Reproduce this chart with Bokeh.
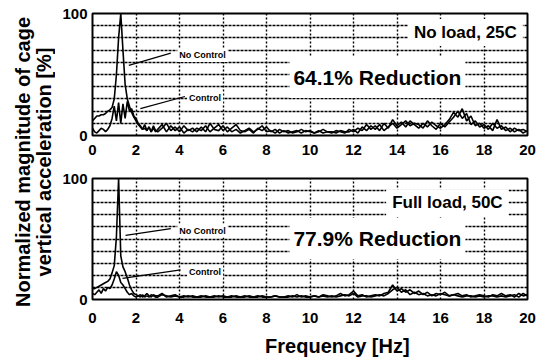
import numpy as np
from bokeh.plotting import figure
from bokeh.models import Range1d, FixedTicker, Label, Arrow, ColumnDataSource
from bokeh.layouts import row, column
from bokeh.embed import file_html
from bokeh.resources import INLINE

# ---------------- data ----------------
freq_lo = [round(0.1 * i, 1) for i in range(30)]        # 0.0 .. 2.9 Hz
freq_hi = [round(3.0 + 0.2 * i, 1) for i in range(86)]  # 3.0 .. 20.0 Hz

x_ticks = [0, 2, 4, 6, 8, 10, 12, 14, 16, 18, 20]
y_ticks = [0, 100]

# Panel 1: No load, 25C
nc1_lo = [12, 14, 16, 16, 17, 17, 18, 20, 21, 23,
          30, 50, 80, 100, 70, 42, 30, 24, 19, 15,
          12, 9, 7, 5, 6, 4, 7, 3, 6, 3]
c1_lo = [6, 3, 2, 4, 6, 5, 3, 5, 8, 14,
         24, 12, 27, 10, 26, 14, 28, 20, 22, 16,
         14, 10, 8, 5, 9, 4, 7, 3, 8, 4]
nc1_hi = [5, 9, 3, 8, 4, 7, 2, 5, 3, 6,
          4, 8, 3, 6, 9, 4, 7, 3, 5, 2,
          4, 6, 3, 5, 8, 3, 4, 2, 5, 3,
          4, 2, 3, 5, 3, 4, 2, 3, 5, 3,
          2, 4, 3, 2, 5, 3, 6, 4, 9, 5,
          8, 4, 10, 6, 13, 8, 11, 7, 12, 9,
          6, 10, 7, 11, 8, 6, 9, 13, 19, 15,
          22, 12, 16, 8, 10, 6, 8, 4, 13, 5,
          7, 3, 6, 4, 5, 3]
c1_hi = [3, 6, 10, 4, 7, 3, 8, 4, 6, 3,
         7, 3, 10, 5, 4, 8, 3, 6, 9, 4,
         3, 5, 2, 6, 4, 7, 3, 5, 2, 4,
         2, 3, 4, 2, 4, 3, 2, 4, 2, 3,
         3, 2, 4, 3, 3, 5, 2, 7, 4, 8,
         5, 9, 4, 7, 10, 6, 9, 12, 8, 10,
         9, 6, 12, 8, 5, 10, 7, 11, 15, 20,
         14, 18, 9, 12, 7, 9, 5, 10, 6, 8,
         4, 6, 3, 5, 2, 4]

# Panel 2: Full load, 50C
nc2_lo = [9, 9, 10, 11, 12, 13, 14, 15, 17, 22,
          28, 52, 100, 36, 27, 23, 18, 12, 8, 5,
          4, 3, 4, 2, 3, 5, 3, 2, 4, 3]
c2_lo = [5, 4, 6, 8, 5, 9, 7, 10, 9, 12,
         17, 23, 20, 14, 12, 9, 6, 4, 5, 3,
         2, 3, 2, 4, 2, 3, 2, 4, 3, 2]
nc2_hi = [3, 5, 2, 3, 4, 2, 3, 2, 3, 2,
          3, 2, 2, 3, 2, 3, 2, 2, 3, 2,
          2, 3, 2, 2, 3, 2, 2, 3, 2, 2,
          3, 2, 4, 2, 3, 2, 3, 2, 4, 3,
          2, 3, 5, 3, 4, 7, 3, 4, 2, 3,
          4, 3, 5, 6, 12, 7, 9, 6, 8, 5,
          7, 4, 6, 3, 5, 4, 6, 3, 4, 5,
          3, 4, 2, 3, 4, 3, 2, 4, 3, 5,
          3, 4, 2, 5, 3, 4]
c2_hi = [2, 4, 3, 2, 3, 2, 2, 3, 2, 2,
         2, 3, 2, 2, 3, 2, 2, 3, 2, 2,
         3, 2, 2, 3, 2, 2, 2, 3, 2, 2,
         2, 3, 2, 3, 2, 2, 3, 2, 3, 2,
         3, 2, 3, 4, 3, 5, 2, 3, 3, 2,
         3, 4, 3, 5, 8, 10, 6, 8, 4, 6,
         4, 5, 3, 4, 3, 5, 4, 3, 4, 3,
         2, 3, 3, 2, 3, 2, 3, 3, 2, 3,
         2, 3, 4, 2, 5, 3]

cond_texts = ["No load, 25C", "Full load, 50C"]
reduction_texts = ["64.1% Reduction", "77.9% Reduction"]
series_names = ["No Control", "Control"]
x_title = "Frequency [Hz]"
y_title = ["Normalized magnitude of cage", "vertical acceleration [%]"]

# ---------------- style / layout ----------------
FONT = "Liberation Sans"
INK = "black"
freq = freq_lo + freq_hi
LEFT_W = 55
PANEL_W = 485

panel_layout = [
    dict(height=166, border_top=13, border_bottom=31, standoff=9,
         cond=(14.5, 84.5), red=(13.1, 47.5), nc_lab=(3.9, 66), c_lab=(4.35, 31),
         nc_lead=((3.6, 67.5), (1.67, 57.5)), c_lead=((4.25, 32), (2.2, 22))),
    dict(height=167, border_top=12, border_bottom=34, standoff=13,
         cond=(13.5, 80), red=(13.1, 50.4), nc_lab=(3.9, 57), c_lab=(4.35, 23),
         nc_lead=((3.6, 58.5), (1.52, 53)), c_lead=((4.05, 24.5), (1.38, 17.4))),
]

def make_panel(nc, c, k):
    L = panel_layout[k]
    p = figure(width=PANEL_W, height=L["height"], x_range=Range1d(0, 20),
               y_range=Range1d(0, 100), toolbar_location=None,
               output_backend="svg", min_border_left=37,
               min_border_right=PANEL_W - 37 - 435,
               min_border_top=L["border_top"], min_border_bottom=L["border_bottom"])
    p.background_fill_color = "white"
    p.border_fill_color = "white"
    p.outline_line_color = INK
    p.outline_line_width = 2
    for ax in (p.xaxis[0], p.yaxis[0]):
        ax.axis_line_color = None
        ax.major_tick_line_color = None
        ax.minor_tick_line_color = None
        ax.major_tick_out = 0
        ax.major_tick_in = 0
        ax.major_label_text_font = FONT
        ax.major_label_text_font_style = "bold"
        ax.major_label_text_font_size = "15px"
        ax.major_label_text_color = INK
    p.xaxis[0].ticker = FixedTicker(ticks=x_ticks)
    p.xaxis[0].major_label_standoff = L["standoff"]
    p.yaxis[0].ticker = FixedTicker(ticks=y_ticks)
    p.yaxis[0].major_label_standoff = 5
    p.xgrid[0].ticker = FixedTicker(ticks=x_ticks)
    p.ygrid[0].ticker = FixedTicker(ticks=list(range(10, 100, 10)))
    p.xgrid[0].grid_line_color = INK
    p.xgrid[0].grid_line_dash = "2 2"
    p.xgrid[0].grid_line_width = 1.4
    p.ygrid[0].grid_line_color = INK
    p.ygrid[0].grid_line_dash = "3 1"
    p.ygrid[0].grid_line_width = 1.3
    p.ygrid[0].grid_line_alpha = 1.0

    src = ColumnDataSource(dict(f=freq, nc=nc, c=c))
    p.line("f", "nc", source=src, line_color=INK, line_width=1.6)
    p.line("f", "c", source=src, line_color=INK, line_width=1.6)

    p.add_layout(Label(x=L["cond"][0], y=L["cond"][1], text=cond_texts[k],
                       text_font=FONT, text_font_style="bold", text_font_size="17px",
                       text_color=INK, text_align="left", text_baseline="middle",
                       background_fill_color="white", padding=(6, 4)))
    p.add_layout(Label(x=L["red"][0], y=L["red"][1], text=reduction_texts[k],
                       text_font=FONT, text_font_style="bold", text_font_size="21px",
                       text_color=INK, text_align="center", text_baseline="middle",
                       background_fill_color="white", padding=(4, 9)))
    for name, pos in ((series_names[0], L["nc_lab"]), (series_names[1], L["c_lab"])):
        p.add_layout(Label(x=pos[0], y=pos[1], text=name,
                           text_font=FONT, text_font_style="bold", text_font_size="9px",
                           text_color=INK, text_align="left", text_baseline="middle",
                           background_fill_color="white", padding=2))
    for (a, b) in (L["nc_lead"], L["c_lead"]):
        p.add_layout(Arrow(end=None, x_start=a[0], y_start=a[1], x_end=b[0], y_end=b[1],
                           line_color=INK, line_width=1.2))
    return p

p1 = make_panel(nc1_lo + nc1_hi, c1_lo + c1_hi, 0)
p2 = make_panel(nc2_lo + nc2_hi, c2_lo + c2_hi, 1)

def blank(w, h):
    f = figure(width=w, height=h, x_range=Range1d(0, w), y_range=Range1d(0, h),
               toolbar_location=None, output_backend="svg", min_border=0,
               x_axis_location=None, y_axis_location=None)
    f.grid.visible = False
    f.outline_line_color = None
    f.background_fill_color = "white"
    f.border_fill_color = "white"
    return f

# x-axis title strip (offset as in the original)
XT_H = 25
xt = blank(PANEL_W, XT_H)
xt.add_layout(Label(x=328 - LEFT_W, y=XT_H - 12, text=x_title, text_font=FONT,
                    text_font_style="bold", text_font_size="20px", text_color=INK,
                    text_align="center", text_baseline="middle"))

# shared y-axis title strip
TOTAL_H = panel_layout[0]["height"] + panel_layout[1]["height"] + XT_H
lab = blank(LEFT_W, TOTAL_H)
for i, txt in enumerate(y_title):
    lab.add_layout(Label(x=[22, 43][i], y=TOTAL_H - 161.5, text=txt, angle=np.pi / 2,
                         text_font=FONT, text_font_style="bold", text_font_size="20px",
                         text_color=INK, text_align="center", text_baseline="middle"))

layout = row(lab, column(p1, p2, xt))
open("out.html", "w").write(file_html(layout, INLINE))
